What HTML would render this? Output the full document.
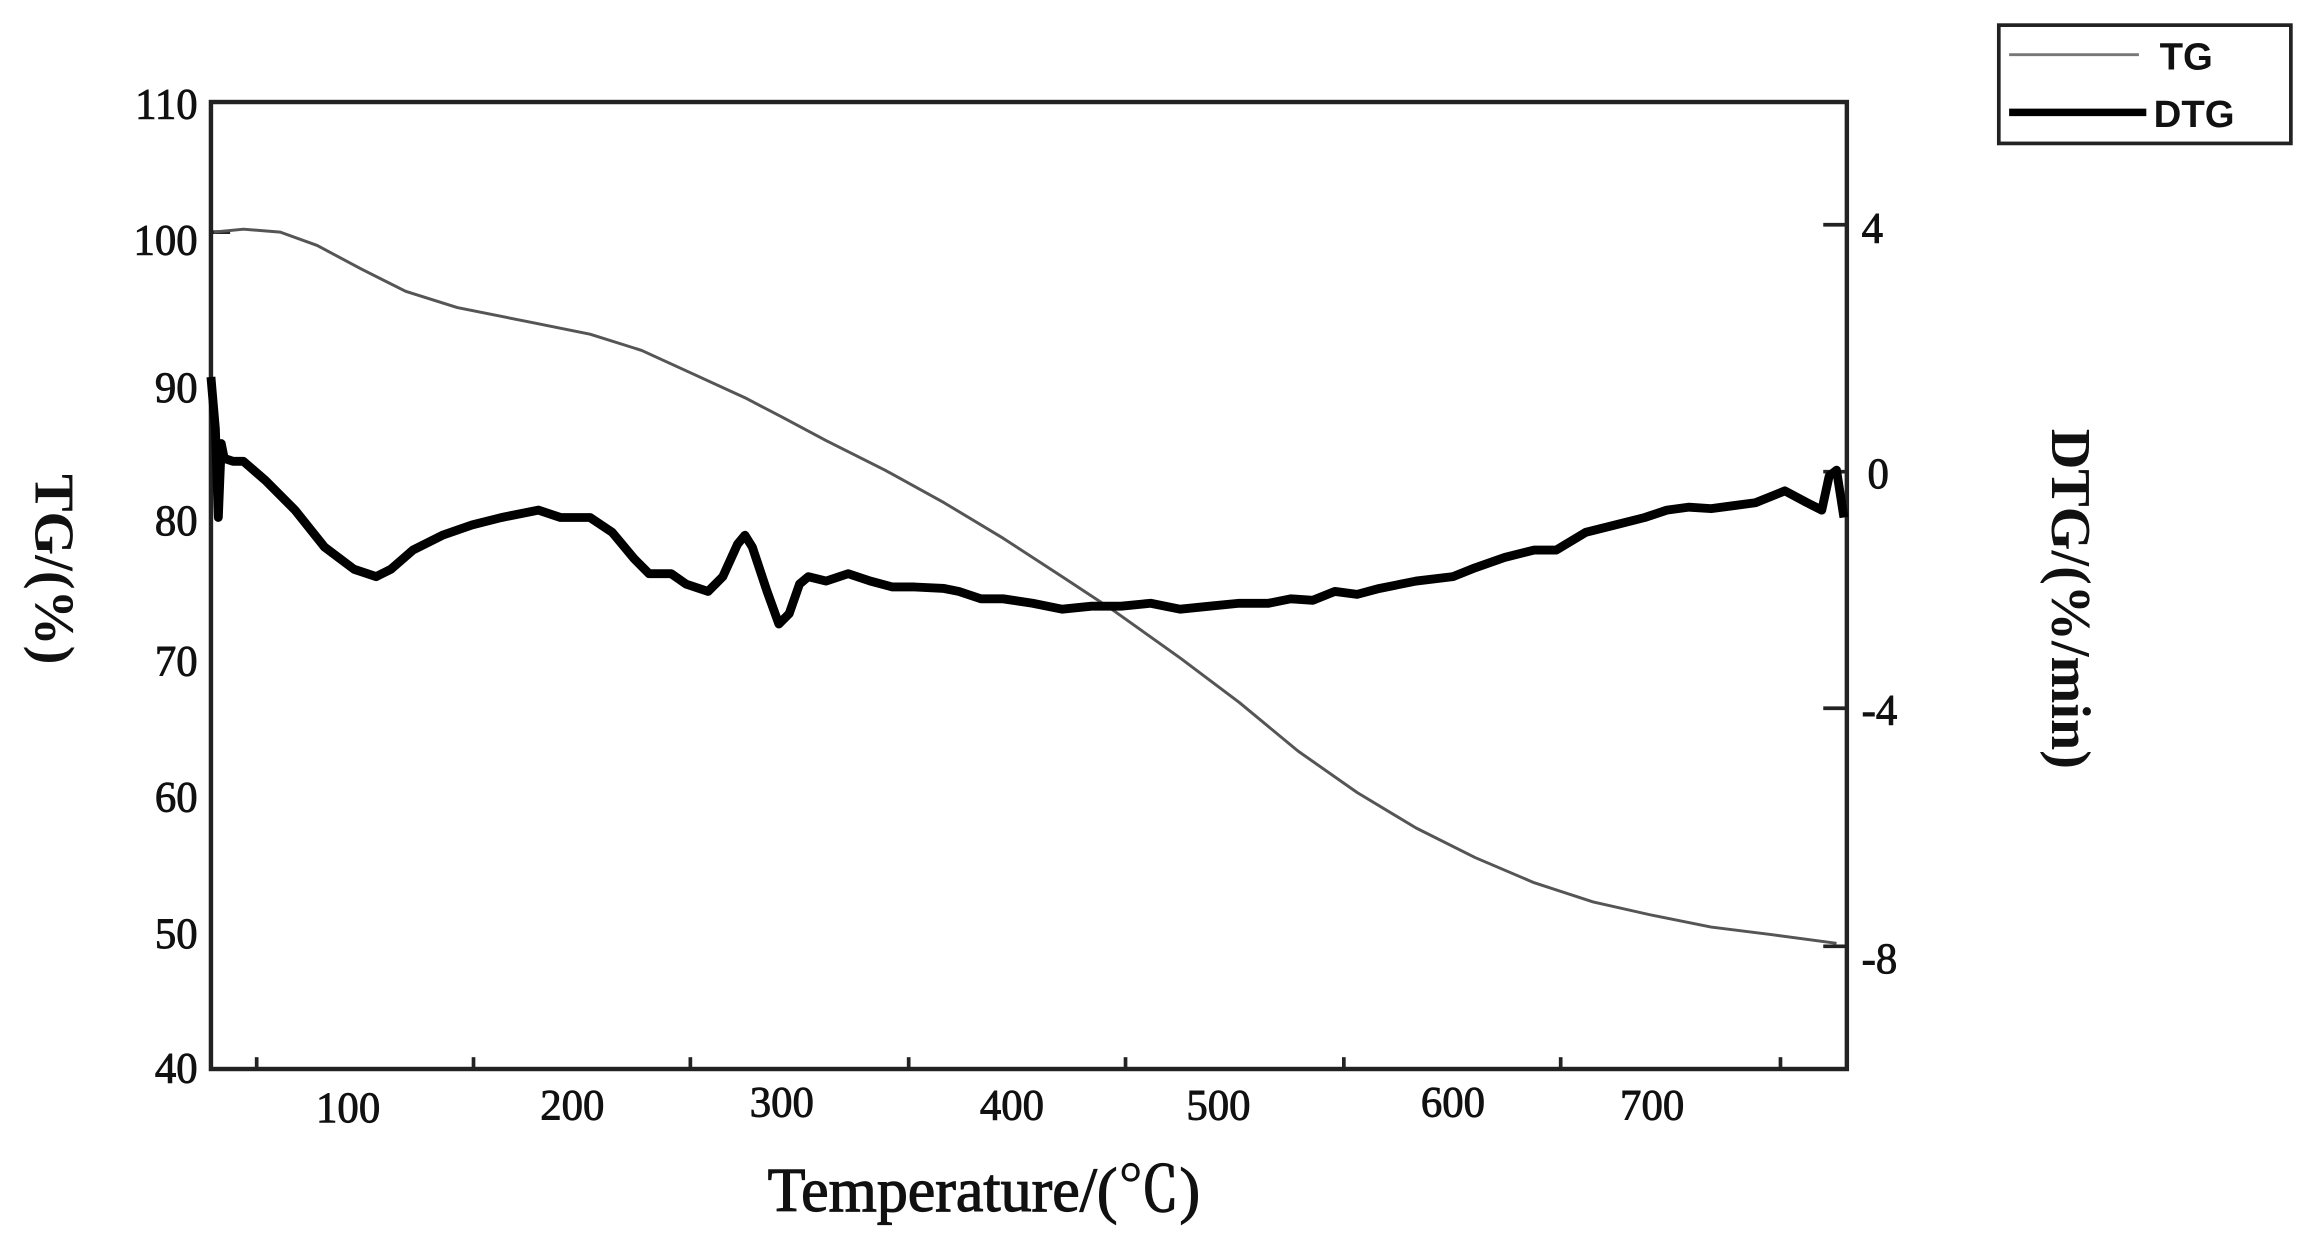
<!DOCTYPE html>
<html><head><meta charset="utf-8"><style>html,body{margin:0;padding:0;background:#fff}svg{display:block}</style></head><body>
<svg width="2313" height="1242" viewBox="0 0 1568 840" preserveAspectRatio="none" xmlns="http://www.w3.org/2000/svg">
<rect width="1568" height="840" fill="#fff"/>
<rect x="143" y="69" width="1109" height="654" fill="none" stroke="#222" stroke-width="3"/>
<g stroke="#222" stroke-width="2.5">
<line x1="174" y1="723" x2="174" y2="715"/><line x1="321" y1="723" x2="321" y2="715"/><line x1="468" y1="723" x2="468" y2="715"/><line x1="616" y1="723" x2="616" y2="715"/><line x1="763" y1="723" x2="763" y2="715"/><line x1="911" y1="723" x2="911" y2="715"/><line x1="1058" y1="723" x2="1058" y2="715"/><line x1="1207" y1="723" x2="1207" y2="715"/>
<line x1="143" y1="157" x2="156" y2="157"/>
<line x1="1236" y1="152" x2="1252" y2="152"/><line x1="1236" y1="319" x2="1252" y2="319"/><line x1="1236" y1="479" x2="1252" y2="479"/><line x1="1236" y1="640" x2="1252" y2="640"/>
</g>
<g font-family="Liberation Serif, serif" font-size="29" fill="#111" text-anchor="end" stroke="#111" stroke-width="0.6">
<text x="134" y="80">110</text><text x="134" y="172">100</text><text x="134" y="272">90</text><text x="134" y="362">80</text><text x="134" y="457">70</text><text x="134" y="549">60</text><text x="134" y="641">50</text><text x="134" y="732">40</text>
</g>
<g font-family="Liberation Serif, serif" font-size="29" fill="#111" text-anchor="start" stroke="#111" stroke-width="0.6">
<text x="1262" y="164">4</text><text x="1266" y="330">0</text><text x="1262" y="490">-4</text><text x="1262" y="658">-8</text>
</g>
<g font-family="Liberation Serif, serif" font-size="29" fill="#111" text-anchor="middle" stroke="#111" stroke-width="0.6">
<text x="236" y="759">100</text><text x="388" y="757">200</text><text x="530" y="755">300</text><text x="686" y="757">400</text><text x="826" y="757">500</text><text x="985" y="755">600</text><text x="1120" y="757">700</text>
</g>
<text x="667" y="819" font-family="Liberation Serif, 'Noto Serif CJK SC', serif" font-size="42" text-anchor="middle" fill="#111" stroke="#111" stroke-width="0.8">Temperature/(℃)</text>
<text transform="translate(24,385) rotate(90)" font-family="Liberation Serif, serif" font-weight="bold" font-size="38" text-anchor="middle" fill="#111">TG/(%)</text>
<text transform="translate(1391,405) rotate(90)" font-family="Liberation Serif, serif" font-weight="bold" font-size="38" text-anchor="middle" fill="#111">DTG/(%/min)</text>
<polyline fill="none" stroke="#555" stroke-width="2" stroke-linejoin="round" points="145,157 165,155 190,157 215,166 245,182 275,197 310,208 360,218 400,226 435,237 470,253 505,269 530,282 560,298 600,318 640,340 680,364 720,390 755,413 800,445 840,475 880,508 920,536 960,560 1000,580 1040,597 1080,610 1120,619 1160,627 1200,632 1245,638"/>
<polyline fill="none" stroke="#000" stroke-width="6" stroke-linejoin="round" points="143,255 146,290 148,350 150,300 152,310 158,312 165,312 180,325 200,345 220,370 240,385 255,390 265,385 280,372 300,362 320,355 340,350 365,345 380,350 400,350 415,360 430,378 440,388 455,388 465,395 480,400 490,390 500,368 505,362 510,370 520,400 528,422 535,415 542,395 548,390 560,393 575,388 590,393 605,397 620,397 640,398 650,400 665,405 680,405 700,408 720,412 740,410 760,410 780,408 800,412 820,410 840,408 860,408 875,405 890,406 905,400 920,402 935,398 960,393 985,390 1000,384 1020,377 1040,372 1055,372 1075,360 1095,355 1115,350 1130,345 1145,343 1160,344 1175,342 1190,340 1210,332 1225,340 1235,345 1240,322 1245,318 1250,350"/>
<rect x="1355" y="17" width="198" height="80" fill="#fff" stroke="#222" stroke-width="2.5"/>
<line x1="1362" y1="37" x2="1450" y2="37" stroke="#777" stroke-width="2"/>
<line x1="1362" y1="76" x2="1455" y2="76" stroke="#000" stroke-width="5"/>
<g font-family="Liberation Sans, sans-serif" font-weight="bold" font-size="26" fill="#111">
<text x="1464" y="47">TG</text><text x="1460" y="86">DTG</text>
</g>
</svg>
</body></html>
